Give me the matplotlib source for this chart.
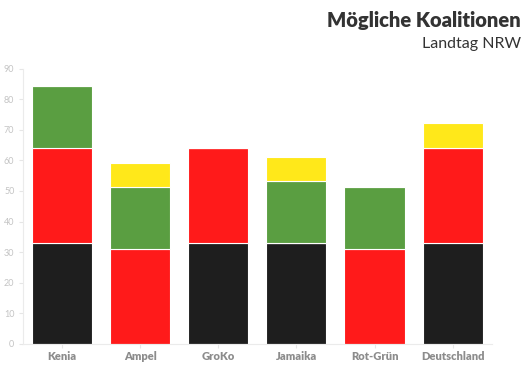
import matplotlib
matplotlib.use("Agg")
import matplotlib.pyplot as plt
import numpy as np

plt.rcParams['font.family'] = ['Lato', 'DejaVu Sans']

categories = ["Kenia", "Ampel", "GroKo", "Jamaika", "Rot-Grün", "Deutschland"]
parties = ["CDU", "SPD", "Grüne", "FDP"]
party_colors = ["#1e1e1e", "#ff1a1a", "#5a9e41", "#ffe81a"]
# party share per coalition (0 = not part)
cdu   = [33.1, 0, 33.1, 33.1, 0, 33.1]
spd   = [31.1, 31.1, 31.1, 0, 31.1, 31.1]
gruene = [20.1, 20.1, 0, 20.1, 20.1, 0]
fdp   = [0, 8, 0, 8, 0, 8]
series = [cdu, spd, gruene, fdp]

fig = plt.figure(figsize=(5.3, 3.77), dpi=100)
ax = fig.add_axes([0.043, 0.088, 0.885, 0.73])

x = np.arange(len(categories))
bottom = np.zeros(len(categories))
for vals, col in zip(series, party_colors):
    v = np.array(vals, dtype=float)
    ax.bar(x, v, bottom=bottom, width=0.77, color=col, edgecolor="white", linewidth=0.8)
    bottom += v

ax.set_xlim(-0.5, len(categories) - 0.5)
ax.set_ylim(0, 90)
ax.set_yticks(np.arange(0, 91, 10))
ax.set_xticks(x)
ax.set_xticklabels(categories, fontsize=8, fontweight="heavy", color="#8c8c8c")
ax.tick_params(axis="y", labelsize=6.5, labelcolor="#c4c4c4", color="#e6e6e6", length=3, pad=3)
ax.tick_params(axis="x", color="#e6e6e6", length=3, pad=2)
for s in ["top", "right"]:
    ax.spines[s].set_visible(False)
for s in ["left", "bottom"]:
    ax.spines[s].set_color("#ebebeb")
    ax.spines[s].set_linewidth(0.8)

fig.text(0.983, 0.945, "Mögliche Koalitionen", ha="right", va="center",
         fontsize=14.5, fontweight="heavy", color="#333333")
fig.text(0.983, 0.882, "Landtag NRW", ha="right", va="center",
         fontsize=11.5, color="#333333")

fig.savefig("out.png", dpi=100)
